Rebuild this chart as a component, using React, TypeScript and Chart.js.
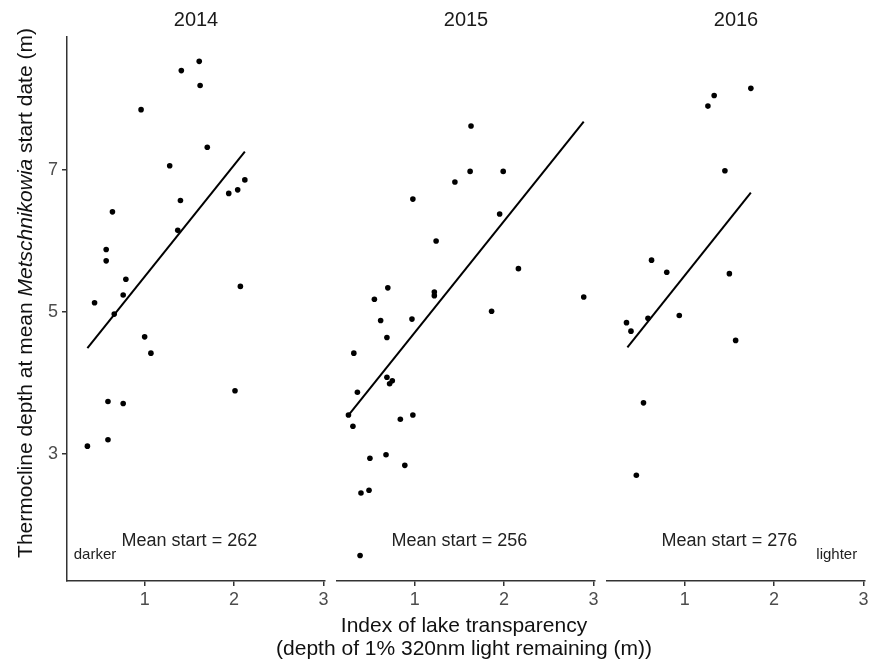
import React, { useEffect, useRef } from "react";
import { Chart, registerables } from "chart.js";

Chart.register(...registerables);

// ---------- data ----------
const years = ["2014", "2015", "2016"];
const meanStart = [262, 256, 276];

const x2014 = [1.61, 1.41, 1.62, 0.96, 1.70, 1.28, 2.12, 2.04, 1.94, 1.40, 0.64, 1.37, 0.57, 0.57, 0.79, 0.76, 0.44, 0.66, 2.07, 1.00, 1.07, 2.01, 0.59, 0.76, 0.59, 0.36];
const y2014 = [8.53, 8.40, 8.19, 7.85, 7.32, 7.06, 6.86, 6.72, 6.67, 6.57, 6.41, 6.15, 5.88, 5.72, 5.46, 5.24, 5.13, 4.97, 5.36, 4.65, 4.42, 3.89, 3.74, 3.71, 3.20, 3.11];

const x2015 = [1.63, 1.62, 1.99, 1.45, 0.98, 1.95, 1.24, 2.16, 0.70, 2.89, 1.22, 1.22, 0.55, 1.86, 0.62, 0.97, 0.69, 0.32, 0.69, 0.75, 0.72, 0.36, 0.26, 0.98, 0.84, 0.31, 0.50, 0.68, 0.89, 0.49, 0.40, 0.39];
const y2015 = [7.62, 6.98, 6.98, 6.83, 6.59, 6.38, 6.00, 5.61, 5.34, 5.21, 5.28, 5.23, 5.18, 5.01, 4.88, 4.90, 4.64, 4.42, 4.08, 4.03, 3.99, 3.87, 3.55, 3.55, 3.49, 3.39, 2.94, 2.99, 2.84, 2.49, 2.45, 1.57];

const x2016 = [1.74, 1.33, 1.26, 1.45, 0.63, 0.80, 1.50, 0.94, 0.59, 0.35, 0.40, 1.57, 0.54, 0.46];
const y2016 = [8.15, 8.05, 7.90, 6.99, 5.73, 5.56, 5.54, 4.95, 4.91, 4.85, 4.73, 4.60, 3.72, 2.70];

// fitted regression lines (end points)
const fitX2014 = [0.36, 2.12];
const fitY2014 = [4.49, 7.26];
const fitX2015 = [0.27, 2.89];
const fitY2015 = [3.56, 7.68];
const fitX2016 = [0.36, 1.74];
const fitY2016 = [4.5, 6.68];

const xTicks = [1, 2, 3];
const yTicks = [3, 5, 7];

const xs = [x2014, x2015, x2016];
const ys = [y2014, y2015, y2016];
const fitXs = [fitX2014, fitX2015, fitX2016];
const fitYs = [fitY2014, fitY2015, fitY2016];

// ---------- layout / style ----------
const W = 872;
const H = 662;
const FONT = "'Liberation Sans', Arial, Helvetica, sans-serif";
const X_MIN = 0.132;
const X_MAX = 3.016;
const Y_MIN = 1.211;
const Y_MAX = 8.873;
const panelLeft = [67, 337, 607];
const panelRight = [325, 595, 865];
const AXIS_COLOR = "#333333";
const TICK_COLOR = "#4d4d4d";

function annotationPlugin(idx: number) {
  return {
    id: "annot" + idx,
    afterDatasetsDraw(chart: any) {
      const ctx = chart.ctx;
      const sx = chart.scales.x;
      const sy = chart.scales.y;
      ctx.save();
      ctx.fillStyle = "#222";
      ctx.textAlign = "center";
      ctx.textBaseline = "middle";
      ctx.font = `18px ${FONT}`;
      ctx.fillText(
        "Mean start = " + meanStart[idx],
        sx.getPixelForValue(1.5),
        sy.getPixelForValue(1.78)
      );
      ctx.font = `15px ${FONT}`;
      if (idx === 0) {
        ctx.fillText("darker", sx.getPixelForValue(0.445), sy.getPixelForValue(1.58));
      }
      if (idx === 2) {
        ctx.fillText("lighter", sx.getPixelForValue(2.7), sy.getPixelForValue(1.58));
      }
      ctx.restore();
    },
  };
}

// figure-level axis titles (y title has an italic genus name; x title spans panels)
const figureTitlesPlugin = {
  id: "figtitles",
  afterDraw(chart: any) {
    const ctx = chart.ctx;
    const parts: [string, string][] = [
      ["Thermocline depth at mean ", `21px ${FONT}`],
      ["Metschnikowia", `italic 21px ${FONT}`],
      [" start date (m)", `21px ${FONT}`],
    ];
    ctx.save();
    let total = 0;
    const widths = parts.map(([t, f]) => {
      ctx.font = f;
      const w = ctx.measureText(t).width;
      total += w;
      return w;
    });
    ctx.translate(32, 293);
    ctx.rotate(-Math.PI / 2);
    ctx.fillStyle = "#111";
    ctx.textAlign = "left";
    ctx.textBaseline = "alphabetic";
    let x = -total / 2;
    parts.forEach(([t, f], i) => {
      ctx.font = f;
      ctx.fillText(t, x, 0);
      x += widths[i];
    });
    ctx.restore();

    ctx.save();
    ctx.fillStyle = "#111";
    ctx.textAlign = "center";
    ctx.textBaseline = "middle";
    ctx.font = `21px ${FONT}`;
    ctx.fillText("Index of lake transparency", 464, 626);
    ctx.fillText("(depth of 1% 320nm light remaining (m))", 464, 649);
    ctx.restore();
  },
};

function makeConfig(idx: number): any {
  const points = xs[idx].map((x, i) => ({ x, y: ys[idx][i] }));
  const fit = fitXs[idx].map((x, i) => ({ x, y: fitYs[idx][i] }));
  const plugins: any[] = [annotationPlugin(idx)];
  if (idx === 0) plugins.push(figureTitlesPlugin);
  return {
    type: "scatter",
    data: {
      datasets: [
        {
          data: points,
          pointRadius: 2.8,
          pointBackgroundColor: "#000",
          pointBorderWidth: 0,
          showLine: false,
        },
        {
          data: fit,
          showLine: true,
          borderColor: "#000",
          borderWidth: 2,
          pointRadius: 0,
          fill: false,
        },
      ],
    },
    options: {
      animation: false,
      responsive: false,
      maintainAspectRatio: false,
      devicePixelRatio: 1,
      events: [],
      layout: {
        padding: {
          left: idx === 0 ? 0 : panelLeft[idx],
          right: W - panelRight[idx],
          top: 0,
          bottom: 0,
        },
      },
      plugins: {
        legend: { display: false },
        tooltip: { enabled: false },
        title: {
          display: true,
          text: years[idx],
          fullSize: false,
          color: "#1a1a1a",
          font: { family: FONT, size: 20, weight: "normal", lineHeight: 1.2 },
          padding: { top: 8, bottom: 5 },
        },
      },
      scales: {
        x: {
          type: "linear",
          position: "bottom",
          min: X_MIN,
          max: X_MAX,
          afterBuildTicks: (s: any) => {
            s.ticks = xTicks.map((v) => ({ value: v }));
          },
          afterFit: (s: any) => {
            s.height = H - 581;
            s.paddingLeft = 0;
            s.paddingRight = 0;
          },
          border: { display: true, color: AXIS_COLOR, width: 1.5 },
          grid: {
            drawOnChartArea: false,
            drawTicks: true,
            tickLength: 5,
            color: AXIS_COLOR,
            lineWidth: 1.5,
          },
          ticks: {
            color: TICK_COLOR,
            font: { family: FONT, size: 18 },
            padding: 3,
            autoSkip: false,
            maxRotation: 0,
            callback: (v: any) => String(v),
          },
          title: { display: false },
        },
        y: {
          type: "linear",
          display: idx === 0,
          min: Y_MIN,
          max: Y_MAX,
          afterBuildTicks: (s: any) => {
            s.ticks = yTicks.map((v) => ({ value: v }));
          },
          afterFit: (s: any) => {
            if (idx === 0) s.width = panelLeft[0];
            s.paddingTop = 0;
            s.paddingBottom = 0;
          },
          border: { display: true, color: AXIS_COLOR, width: 1.5 },
          grid: {
            drawOnChartArea: false,
            drawTicks: true,
            tickLength: 5,
            color: AXIS_COLOR,
            lineWidth: 1.5,
          },
          ticks: {
            color: TICK_COLOR,
            font: { family: FONT, size: 18 },
            padding: 4,
            callback: (v: any) => String(v),
          },
        },
      },
    },
    plugins,
  };
}

function Panel({ idx }: { idx: number }) {
  const ref = useRef<HTMLCanvasElement | null>(null);
  useEffect(() => {
    if (!ref.current) return;
    const chart = new Chart(ref.current, makeConfig(idx));
    return () => chart.destroy();
  }, [idx]);
  return (
    <canvas
      ref={ref}
      width={W}
      height={H}
      style={{ position: "absolute", left: 0, top: 0, width: W, height: H }}
    />
  );
}

export default function App() {
  return (
    <div
      style={{
        position: "fixed",
        left: 0,
        top: 0,
        width: W,
        height: H,
        background: "#fff",
        overflow: "hidden",
      }}
    >
      {[0, 1, 2].map((i) => (
        <Panel key={i} idx={i} />
      ))}
    </div>
  );
}
